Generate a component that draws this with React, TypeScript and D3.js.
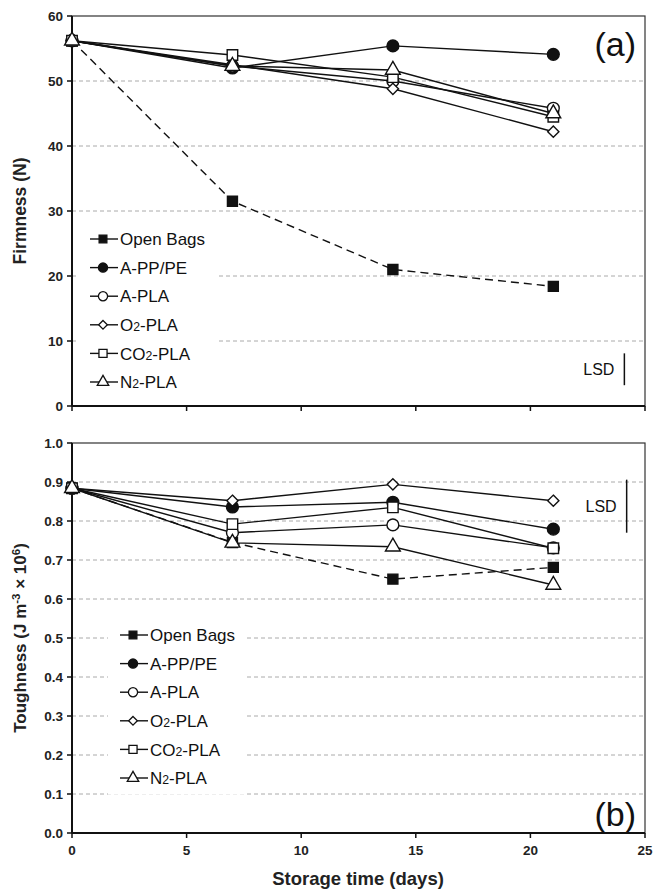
import React from 'react';
import * as d3 from 'd3';

// storage days
const days = [0, 7, 14, 21];

const seriesNames = ['Open Bags', 'A-PP/PE', 'A-PLA', 'O2-PLA', 'CO2-PLA', 'N2-PLA'];

// firmness (N)
const firmOpen = [56.2, 31.5, 21.0, 18.4];
const firmAPPPE = [56.2, 52.0, 55.4, 54.1];
const firmAPLA = [56.2, 52.3, 50.0, 45.8];
const firmO2 = [56.2, 52.5, 48.8, 42.2];
const firmCO2 = [56.2, 54.0, 50.6, 44.5];
const firmN2 = [56.2, 52.3, 51.7, 45.0];

// toughness (J m-3 x 10^6)
const toughOpen = [0.884, 0.745, 0.651, 0.681];
const toughAPPPE = [0.884, 0.836, 0.848, 0.779];
const toughAPLA = [0.884, 0.77, 0.79, 0.731];
const toughO2 = [0.884, 0.852, 0.894, 0.852];
const toughCO2 = [0.884, 0.792, 0.835, 0.730];
const toughN2 = [0.884, 0.744, 0.734, 0.636];

const lsdFirm = 4.9;
const lsdTough = 0.136;

const xTicks = [0, 5, 10, 15, 20, 25];
const firmTicks = [0, 10, 20, 30, 40, 50, 60];
const toughTicks = [0, 0.1, 0.2, 0.3, 0.4, 0.5, 0.6, 0.7, 0.8, 0.9, 1.0];

const firmData = [firmOpen, firmAPPPE, firmAPLA, firmO2, firmCO2, firmN2];
const toughData = [toughOpen, toughAPPPE, toughAPLA, toughO2, toughCO2, toughN2];

const symbols = [d3.symbolSquare, d3.symbolCircle, d3.symbolCircle, d3.symbolDiamond2, d3.symbolSquare, d3.symbolTriangle];
const sizes = [100, 110, 110, 80, 110, 95];
const filled = [true, true, false, false, false, false];

const font = '"Liberation Sans", Arial, sans-serif';
const L = 72, R = 645;

const x = d3.scaleLinear().domain([0, 25]).range([L, R]);
const yF = d3.scaleLinear().domain([0, 60]).range([406, 16]);
const yT = d3.scaleLinear().domain([0, 1]).range([833, 443]);

function Label({ name, size }: { name: string; size: number }) {
  const m = name.match(/^([A-Z]+)2(-.*)$/);
  if (!m) return <>{name}</>;
  return (
    <>
      {m[1]}
      <tspan fontSize={size * 0.72}>2</tspan>
      {m[2]}
    </>
  );
}

function Panel({ y, ticks, data, fmt, legend, lsd, lsdText, lsdX, lsdTop, tag, tagY, showX }: any) {
  const line = d3.line<number>().x((_, i) => x(days[i])).y((d) => y(d));
  const [y0, y1] = y.range();
  const fs = 17;
  return (
    <g fontFamily={font}>
      {/* grid */}
      {ticks.slice(1, -1).map((t: number) => (
        <line key={t} x1={L} x2={R} y1={y(t)} y2={y(t)} stroke="#aaa" strokeDasharray="4,3" />
      ))}
      {/* legend bg */}
      <rect x={legend.x - 12} y={legend.y - 14} width={legend.w} height={6 * 28.6 + 2} fill="#fff" />
      {/* frame */}
      <rect x={L} y={y1} width={R - L} height={y0 - y1} fill="none" stroke="#333" strokeWidth={1.2} />
      <line x1={L} x2={R} y1={y0} y2={y0} stroke="#111" strokeWidth={2} />
      <line x1={L} x2={L} y1={y0} y2={y1} stroke="#111" strokeWidth={2} />
      {/* y ticks */}
      {ticks.map((t: number) => (
        <g key={t}>
          <line x1={L - 5} x2={L} y1={y(t)} y2={y(t)} stroke="#111" strokeWidth={1.5} />
          <text x={L - 9} y={y(t)} dy="0.35em" textAnchor="end" fontSize={13.5} fontWeight="bold" fill="#222">
            {fmt(t)}
          </text>
        </g>
      ))}
      {/* x ticks */}
      {xTicks.map((t) => (
        <g key={t}>
          <line x1={x(t)} x2={x(t)} y1={y0} y2={y0 + 5} stroke="#111" strokeWidth={1.5} />
          {showX && (
            <text x={x(t)} y={y0 + 22} textAnchor="middle" fontSize={13.5} fontWeight="bold" fill="#222">
              {t}
            </text>
          )}
        </g>
      ))}
      {/* series */}
      {data.map((vals: number[], s: number) => (
        <path key={'l' + s} d={line(vals) || ''} fill="none" stroke="#111" strokeWidth={1.4}
          strokeDasharray={s === 0 ? '8,5' : undefined} />
      ))}
      {data.map((vals: number[], s: number) =>
        vals.map((v, i) => (
          <path key={'m' + s + i} transform={`translate(${x(days[i])},${y(v)})`}
            d={d3.symbol(symbols[s], sizes[s])() || ''} fill={filled[s] ? '#111' : '#fff'} stroke="#111" strokeWidth={1.4} />
        ))
      )}
      {/* legend */}
      {seriesNames.map((n, s) => {
        const ly = legend.y + s * 28.6;
        return (
          <g key={n}>
            <line x1={legend.x} x2={legend.x + 28} y1={ly} y2={ly} stroke="#111" strokeWidth={1.4} />
            <path transform={`translate(${legend.x + 13},${ly})`} d={d3.symbol(symbols[s], sizes[s] * 0.6)() || ''}
              fill={filled[s] ? '#111' : '#fff'} stroke="#111" strokeWidth={1.3} />
            <text x={legend.x + 30} y={ly} dy="0.36em" fontSize={fs} fill="#111">
              <Label name={n} size={fs} />
            </text>
          </g>
        );
      })}
      {/* LSD */}
      <line x1={x(lsdX)} x2={x(lsdX)} y1={y(lsdTop)} y2={y(lsdTop - lsd)} stroke="#111" strokeWidth={1.5} />
      <text x={x(lsdX) - 10} y={y(lsdTop - lsd / 2)} dy="0.36em" textAnchor="end" fontSize={16} fill="#111">{lsdText}</text>
      <text x={636} y={tagY} textAnchor="end" fontSize={34} fill="#111">{tag}</text>
    </g>
  );
}

export default function App() {
  return (
    <svg width={656} height={892} style={{ position: 'absolute', left: 0, top: 0, background: '#fff' }}>
      <rect width={656} height={892} fill="#fff" />
      <Panel y={yF} ticks={firmTicks} data={firmData} fmt={(t: number) => String(t)}
        legend={{ x: 90, y: 239, w: 140 }} lsd={lsdFirm} lsdText="LSD" lsdX={24.1} lsdTop={8.1}
        tag="(a)" tagY={56} showX={false} />
      <Panel y={yT} ticks={toughTicks} data={toughData} fmt={(t: number) => t.toFixed(1)}
        legend={{ x: 120, y: 635, w: 137 }} lsd={lsdTough} lsdText="LSD" lsdX={24.2} lsdTop={0.906}
        tag="(b)" tagY={826} showX={true} />
      <text transform="translate(26,211) rotate(-90)" textAnchor="middle" fontFamily={font} fontSize={17.5} fontWeight="bold" fill="#222">
        Firmness (N)
      </text>
      <text transform="translate(26,638) rotate(-90)" textAnchor="middle" fontFamily={font} fontSize={17} fontWeight="bold" fill="#222">
        Toughness (J m<tspan fontSize={11.5} dy={-6}>-3</tspan><tspan dy={6}> × 10</tspan><tspan fontSize={11.5} dy={-6}>6</tspan><tspan dy={6}>)</tspan>
      </text>
      <text x={358} y={885} textAnchor="middle" fontFamily={font} fontSize={18.5} fontWeight="bold" fill="#222">
        Storage time (days)
      </text>
    </svg>
  );
}
